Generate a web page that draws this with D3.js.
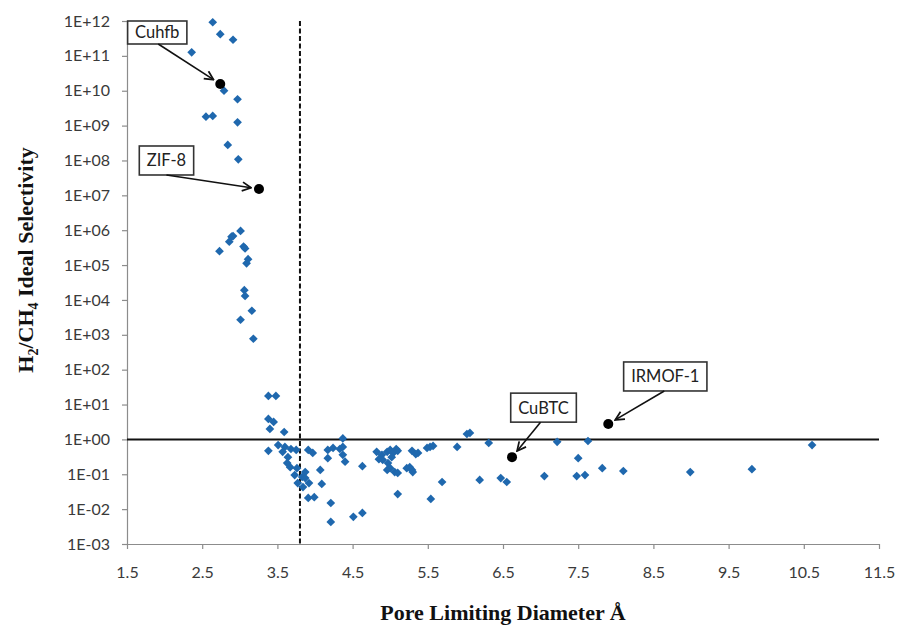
<!DOCTYPE html>
<html>
<head>
<meta charset="utf-8">
<script src="https://cdn.jsdelivr.net/npm/d3@7"></script>
<style>
  body { margin: 0; background: #fff; }
  svg { display: block; }
</style>
</head>
<body>
<svg id="chart" width="897" height="627"></svg>
<script>
// Pore limiting diameter (Å) of each screened framework
const pld = [
  2.64, 2.74, 2.91, 2.36, 2.79, 2.97, 2.55, 2.64, 2.97, 2.84, 2.98,
  3.01, 2.91, 2.89, 2.86, 2.73, 3.05, 3.07, 3.11, 3.09, 3.06, 3.07, 3.16, 3.01, 3.18,
  3.38, 3.48, 3.38, 3.45, 3.40, 3.59, 3.38, 3.51, 3.60, 3.57, 3.68, 3.75, 3.64, 3.63,
  3.67, 3.76, 3.73, 3.83, 3.87, 3.77, 3.84, 3.92, 3.87, 3.91, 3.97, 4.07, 4.09, 3.91,
  3.99, 4.21, 4.21, 4.17, 4.24, 4.17, 4.33, 4.37, 4.37, 4.37, 4.40, 4.63,
  4.82, 4.89, 4.85, 4.90, 4.96, 5.00, 5.04, 5.08, 5.10, 5.02, 4.97, 5.00, 5.06, 4.96,
  5.10, 5.22, 5.26, 5.29, 5.30, 5.29, 5.37, 5.34, 5.49, 5.53, 5.57, 5.89, 5.69, 5.10,
  5.54, 4.51, 4.63,
  6.02, 6.06, 6.31, 6.19, 6.47, 6.55, 7.05, 7.22, 7.63, 7.50, 7.48, 7.59, 7.82, 8.10,
  8.99, 9.81, 10.61
];

// H2/CH4 ideal selectivity for the same frameworks, in the same order
const selectivity = [
  9.2e11, 4.2e11, 2.9e11, 1.26e11, 1.0e10, 5.7e9, 1.8e9, 1.9e9, 1.24e9, 2.8e8, 1.08e8,
  9.5e5, 6.8e5, 6.5e5, 4.7e5, 2.5e5, 3.4e5, 3.0e5, 1.47e5, 1.12e5, 1.9e4, 1.3e4, 4.9e3, 2.7e3, 7.7e2,
  17.6, 17.6, 3.86, 3.16, 2.0, 1.63, 0.47, 0.69, 0.61, 0.44, 0.53, 0.50, 0.31, 0.21,
  0.16, 0.15, 0.095, 0.084, 0.116, 0.056, 0.043, 0.056, 0.078, 0.50, 0.41, 0.133, 0.053, 0.021,
  0.022, 0.015, 0.0043, 0.50, 0.57, 0.29, 0.53, 1.07, 0.61, 0.36, 0.23, 0.17,
  0.44, 0.36, 0.27, 0.26, 0.44, 0.50, 0.41, 0.53, 0.47, 0.31, 0.21, 0.15, 0.116, 0.133,
  0.109, 0.15, 0.16, 0.133, 0.116, 0.47, 0.41, 0.38, 0.57, 0.61, 0.65, 0.61, 0.060, 0.027,
  0.0196, 0.006, 0.0078,
  1.43, 1.53, 0.79, 0.069, 0.078, 0.060, 0.089, 0.85, 0.90, 0.29, 0.089, 0.095, 0.15, 0.124,
  0.116, 0.14, 0.69
];

// Well-known frameworks that are called out by name
const namedMofs = ["Cuhfb", "ZIF-8", "CuBTC", "IRMOF-1"];
const namedPld = [2.74, 3.255, 6.62, 7.90];
const namedSelectivity = [1.56e10, 1.52e7, 0.31, 2.77];

// Axis ticks
const xTickValues = [1.5, 2.5, 3.5, 4.5, 5.5, 6.5, 7.5, 8.5, 9.5, 10.5, 11.5];
const yTickExponents = [-3, -2, -1, 0, 1, 2, 3, 4, 5, 6, 7, 8, 9, 10, 11, 12];

// Reference lines: CH4 kinetic diameter and unit selectivity
const ch4KineticDiameter = 3.8;
const unitSelectivity = 1;

// ---- layout ----
const margin = { left: 127, right: 18, top: 21, bottom: 83 };
const W = 897, H = 627;
const svg = d3.select("#chart");

const x = d3.scaleLinear()
  .domain([xTickValues[0], xTickValues[xTickValues.length - 1]])
  .range([margin.left, W - margin.right]);

const y = d3.scaleLog()
  .domain([Math.pow(10, yTickExponents[0]), Math.pow(10, yTickExponents[yTickExponents.length - 1])])
  .range([H - margin.bottom, margin.top]);

const tickFont = "Lato, 'Open Sans', sans-serif";
const titleFont = "'Liberation Serif', 'Times New Roman', serif";
const axisGrey = "#8c8c8c";
const labelColor = "#3a3a3a";

const sci = e => "1E" + (e < 0 ? "-" : "+") + String(Math.abs(e)).padStart(2, "0");

// y axis
const yAxis = svg.append("g")
  .attr("transform", `translate(${margin.left},0)`)
  .call(d3.axisLeft(y)
    .tickValues(yTickExponents.map(e => Math.pow(10, e)))
    .tickFormat(v => sci(Math.round(Math.log10(v))))
    .tickSize(5)
    .tickSizeOuter(0)
    .tickPadding(12));

// x axis
const xAxis = svg.append("g")
  .attr("transform", `translate(0,${H - margin.bottom})`)
  .call(d3.axisBottom(x)
    .tickValues(xTickValues)
    .tickFormat(d3.format(".1f"))
    .tickSize(5)
    .tickSizeOuter(0)
    .tickPadding(18));

[yAxis, xAxis].forEach(g => {
  g.select(".domain").attr("stroke", axisGrey).attr("stroke-width", 1.2);
  g.selectAll(".tick line").attr("stroke", axisGrey).attr("stroke-width", 1.2);
  g.selectAll(".tick text")
    .attr("fill", labelColor)
    .style("font-family", tickFont)
    .style("font-size", "16px");
});

// reference lines
svg.append("line")
  .attr("x1", x.range()[0]).attr("x2", x.range()[1])
  .attr("y1", y(unitSelectivity)).attr("y2", y(unitSelectivity))
  .attr("stroke", "#111").attr("stroke-width", 2);

svg.append("line")
  .attr("x1", x(ch4KineticDiameter)).attr("x2", x(ch4KineticDiameter))
  .attr("y1", y.range()[1]).attr("y2", y.range()[0])
  .attr("stroke", "#111").attr("stroke-width", 2)
  .attr("stroke-dasharray", "5,2.5");

// screened frameworks
const diamond = d3.symbol().type(d3.symbolSquare).size(38)();
svg.append("g")
  .selectAll("path")
  .data(pld.map((p, i) => ({ p, s: selectivity[i] })))
  .join("path")
  .attr("d", diamond)
  .attr("transform", d => `translate(${x(d.p)},${y(d.s)}) rotate(45)`)
  .attr("fill", "#1f68ae");

// callouts for the named frameworks
const calloutLayout = {
  "Cuhfb":   { dx: -63,   dy: -51.5, h: 23, sx: 1 },
  "ZIF-8":   { dx: -92.5, dy: -28.5, h: 29, sx: 0 },
  "CuBTC":   { dx: 31.5,  dy: -49.5, h: 29, sx: -3 },
  "IRMOF-1": { dx: 57,    dy: -47.5, h: 29, sx: -1 }
};

svg.append("defs").append("marker")
  .attr("id", "openArrow")
  .attr("viewBox", "0 0 10 10")
  .attr("refX", 9).attr("refY", 5)
  .attr("markerWidth", 11).attr("markerHeight", 11)
  .attr("markerUnits", "userSpaceOnUse")
  .attr("orient", "auto")
  .append("path")
  .attr("d", "M1,1 L9,5 L1,9")
  .attr("fill", "none")
  .attr("stroke", "#111")
  .attr("stroke-width", 1.6);

const callouts = svg.append("g");
namedMofs.forEach((name, i) => {
  const px = x(namedPld[i]), py = y(namedSelectivity[i]);
  const L = calloutLayout[name];
  const cx = px + L.dx, cy = py + L.dy;

  const g = callouts.append("g");
  const t = g.append("text")
    .attr("x", cx).attr("y", cy)
    .attr("text-anchor", "middle")
    .attr("dominant-baseline", "central")
    .attr("fill", "#222")
    .style("font-family", tickFont)
    .style("font-size", "16.5px")
    .text(name);
  const bw = t.node().getComputedTextLength() + 15;
  g.insert("rect", "text")
    .attr("x", cx - bw / 2).attr("y", cy - L.h / 2)
    .attr("width", bw).attr("height", L.h)
    .attr("fill", "#fff")
    .attr("stroke", "#333")
    .attr("stroke-width", 1.6);

  // arrow from the box to the point
  const sx = cx + L.sx, sy = cy + L.h / 2;
  const len = Math.hypot(px - sx, py - sy);
  const gap = 8;
  const ex = px - (px - sx) / len * gap, ey = py - (py - sy) / len * gap;
  callouts.append("line")
    .attr("x1", sx).attr("y1", sy).attr("x2", ex).attr("y2", ey)
    .attr("stroke", "#111").attr("stroke-width", 1.6)
    .attr("marker-end", "url(#openArrow)");

  callouts.append("circle")
    .attr("cx", px).attr("cy", py).attr("r", 5)
    .attr("fill", "#000");
});

// axis titles
svg.append("text")
  .attr("x", (x.range()[0] + x.range()[1]) / 2)
  .attr("y", 620)
  .attr("text-anchor", "middle")
  .attr("fill", "#111")
  .style("font-family", titleFont)
  .style("font-weight", "bold")
  .style("font-size", "22px")
  .text("Pore Limiting Diameter Å");

const yTitle = svg.append("text")
  .attr("transform", "translate(33,260) rotate(-90)")
  .attr("text-anchor", "middle")
  .attr("fill", "#111")
  .style("font-family", titleFont)
  .style("font-weight", "bold")
  .style("font-size", "22px");
yTitle.append("tspan").text("H");
yTitle.append("tspan").attr("dy", 5).style("font-size", "14px").text("2");
yTitle.append("tspan").attr("dy", -5).text("/CH");
yTitle.append("tspan").attr("dy", 5).style("font-size", "14px").text("4");
yTitle.append("tspan").attr("dy", -5).text(" Ideal Selectivity");
</script>
</body>
</html>
